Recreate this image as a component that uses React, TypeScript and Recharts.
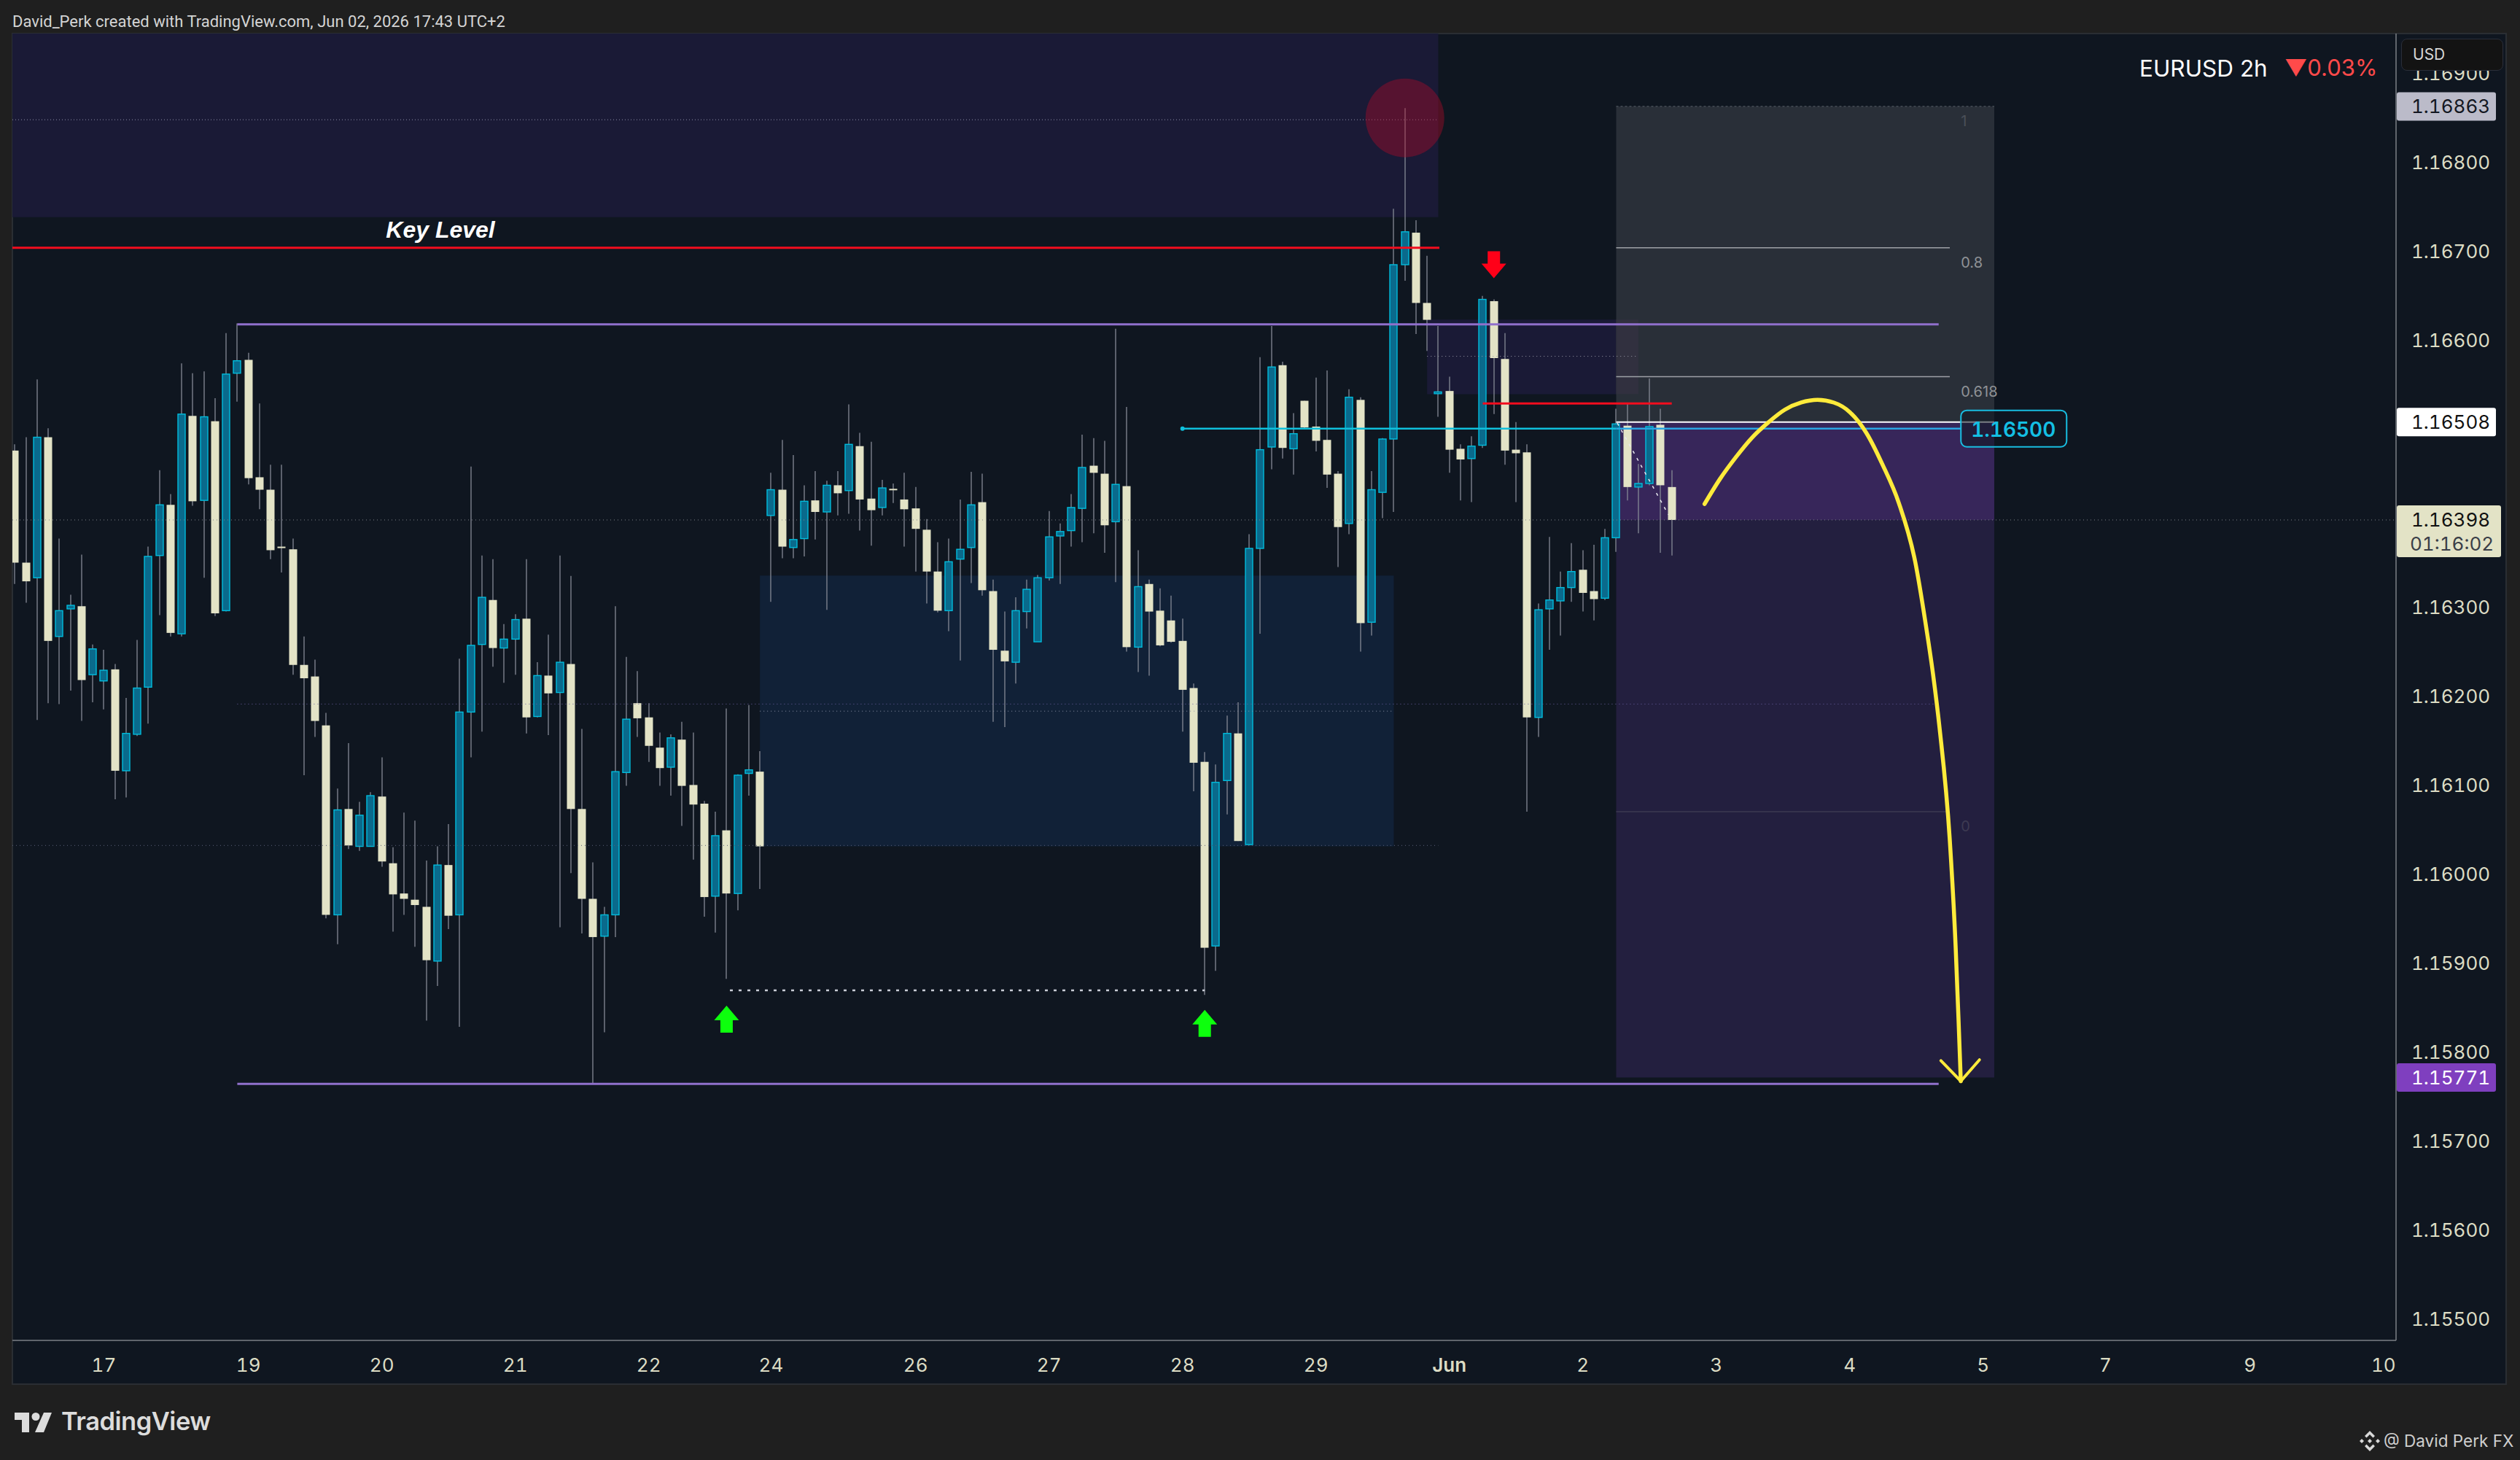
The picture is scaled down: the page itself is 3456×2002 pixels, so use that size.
import { ComposedChart, Bar, Line, XAxis, YAxis, ReferenceArea, ReferenceLine, ReferenceDot } from 'recharts';

const opens = [
  1.16476,1.16350,1.16333,1.16491,1.16267,1.16298,1.16301,1.16224,1.16217,1.16230,
  1.16116,1.16157,1.16210,1.16358,1.16415,1.16270,1.16515,1.16420,1.16509,1.16296,
  1.16563,1.16578,1.16446,1.16432,1.16368,1.16365,1.16235,1.16222,1.16167,1.15954,
  1.16073,1.16031,1.16031,1.16087,1.16012,1.15978,1.15971,1.15963,1.15902,1.16010,
  1.15954,1.16182,1.16258,1.16308,1.16254,1.16264,1.16287,1.16177,1.16223,1.16204,
  1.16236,1.16073,1.15972,1.15930,1.15954,1.16114,1.16192,1.16176,1.16142,1.16120,
  1.16151,1.16100,1.16079,1.15975,1.16049,1.15978,1.16113,1.16115,1.16403,1.16432,
  1.16367,1.16377,1.16420,1.16407,1.16437,1.16431,1.16481,1.16422,1.16412,1.16433,
  1.16421,1.16411,1.16387,1.16340,1.16296,1.16354,1.16367,1.16418,1.16318,1.16251,
  1.16238,1.16295,1.16261,1.16333,1.16380,1.16386,1.16411,1.16459,1.16450,1.16396,
  1.16436,1.16255,1.16326,1.16296,1.16285,1.16262,1.16209,1.16126,1.15919,1.16105,
  1.16158,1.16033,1.16366,1.16480,1.16572,1.16478,1.16532,1.16503,1.16488,1.16450,
  1.16394,1.16533,1.16283,1.16429,1.16489,1.16685,1.16721,1.16642,1.16540,1.16543,
  1.16478,1.16467,1.16482,1.16644,1.16579,1.16477,1.16474,1.16176,1.16298,1.16307,
  1.16322,1.16342,1.16318,1.16310,1.16378,1.16504,1.16435,1.16439,1.16505,1.16435,
];

const closes = [
  1.16350,1.16329,1.16491,1.16262,1.16296,1.16302,1.16218,1.16253,1.16229,1.16116,
  1.16158,1.16209,1.16357,1.16415,1.16271,1.16517,1.16419,1.16514,1.16293,1.16562,
  1.16577,1.16445,1.16432,1.16364,1.16367,1.16235,1.16220,1.16172,1.15954,1.16072,
  1.16032,1.16066,1.16088,1.16014,1.15977,1.15972,1.15965,1.15903,1.16010,1.15953,
  1.16182,1.16257,1.16311,1.16254,1.16264,1.16286,1.16176,1.16223,1.16203,1.16238,
  1.16073,1.15972,1.15929,1.15954,1.16115,1.16174,1.16175,1.16144,1.16119,1.16153,
  1.16099,1.16078,1.15974,1.16043,1.15978,1.16111,1.16117,1.16031,1.16432,1.16368,
  1.16376,1.16419,1.16407,1.16437,1.16428,1.16483,1.16421,1.16409,1.16434,1.16432,
  1.16410,1.16388,1.16340,1.16296,1.16351,1.16365,1.16415,1.16319,1.16252,1.16239,
  1.16296,1.16320,1.16333,1.16379,1.16385,1.16412,1.16457,1.16451,1.16392,1.16438,
  1.16255,1.16323,1.16295,1.16257,1.16261,1.16207,1.16125,1.15917,1.16103,1.16158,
  1.16037,1.16366,1.16477,1.16570,1.16479,1.16495,1.16502,1.16487,1.16449,1.16390,
  1.16536,1.16282,1.16432,1.16489,1.16685,1.16722,1.16642,1.16623,1.16542,1.16477,
  1.16466,1.16481,1.16646,1.16580,1.16476,1.16473,1.16176,1.16297,1.16308,1.16322,
  1.16340,1.16316,1.16309,1.16378,1.16506,1.16435,1.16439,1.16503,1.16437,1.16398,
];

const highs = [
  1.16483,1.16491,1.16556,1.16501,1.16377,1.16314,1.16359,1.16258,1.16252,1.16236,
  1.16198,1.16263,1.16368,1.16454,1.16427,1.16574,1.16563,1.16565,1.16535,1.16608,
  1.16619,1.16586,1.16529,1.16460,1.16460,1.16377,1.16267,1.16241,1.16181,1.16096,
  1.16147,1.16081,1.16092,1.16131,1.16030,1.16069,1.16060,1.16015,1.16031,1.16056,
  1.16242,1.16458,1.16358,1.16354,1.16281,1.16292,1.16354,1.16238,1.16269,1.16358,
  1.16335,1.16163,1.16013,1.15963,1.16301,1.16244,1.16228,1.16192,1.16159,1.16157,
  1.16171,1.16159,1.16082,1.16070,1.16186,1.16112,1.16190,1.16138,1.16451,1.16488,
  1.16471,1.16437,1.16453,1.16442,1.16453,1.16528,1.16496,1.16486,1.16443,1.16439,
  1.16451,1.16435,1.16399,1.16373,1.16377,1.16421,1.16452,1.16450,1.16331,1.16295,
  1.16311,1.16331,1.16336,1.16408,1.16394,1.16427,1.16494,1.16490,1.16487,1.16613,
  1.16525,1.16364,1.16331,1.16321,1.16313,1.16287,1.16214,1.16137,1.16123,1.16178,
  1.16193,1.16382,1.16581,1.16616,1.16576,1.16518,1.16532,1.16558,1.16566,1.16453,
  1.16545,1.16536,1.16453,1.16490,1.16748,1.16861,1.16735,1.16695,1.16616,1.16559,
  1.16483,1.16492,1.16650,1.16646,1.16608,1.16508,1.16483,1.16304,1.16379,1.16340,
  1.16372,1.16364,1.16370,1.16388,1.16523,1.16529,1.16461,1.16557,1.16523,1.16454,
];

const lows = [
  1.16326,1.16305,1.16173,1.16192,1.16191,1.16206,1.16172,1.16193,1.16185,1.16084,
  1.16086,1.16155,1.16169,1.16291,1.16267,1.16267,1.16414,1.16333,1.16290,1.16295,
  1.16531,1.16438,1.16410,1.16354,1.16339,1.16224,1.16111,1.16154,1.15950,1.15921,
  1.16028,1.16026,1.16031,1.16008,1.15935,1.15954,1.15918,1.15835,1.15874,1.15938,
  1.15828,1.16131,1.16160,1.16233,1.16215,1.16224,1.16158,1.16176,1.16156,1.15940,
  1.16001,1.15933,1.15764,1.15822,1.15929,1.16099,1.16154,1.16126,1.16099,1.16088,
  1.16054,1.16016,1.15952,1.15934,1.15882,1.15959,1.16088,1.15983,1.16306,1.16355,
  1.16355,1.16357,1.16376,1.16297,1.16403,1.16405,1.16386,1.16369,1.16403,1.16417,
  1.16368,1.16340,1.16304,1.16294,1.16273,1.16240,1.16327,1.16313,1.16171,1.16165,
  1.16214,1.16276,1.16261,1.16330,1.16326,1.16368,1.16373,1.16383,1.16361,1.16328,
  1.16250,1.16227,1.16223,1.16256,1.16260,1.16160,1.16093,1.15864,1.15891,1.16067,
  1.16037,1.16032,1.16270,1.16455,1.16467,1.16449,1.16501,1.16475,1.16434,1.16345,
  1.16382,1.16250,1.16268,1.16400,1.16407,1.16667,1.16607,1.16588,1.16514,1.16451,
  1.16420,1.16418,1.16479,1.16517,1.16460,1.16418,1.16070,1.16154,1.16252,1.16268,
  1.16306,1.16295,1.16285,1.16308,1.16362,1.16420,1.16383,1.16437,1.16361,1.16358,
];

// time axis: bar index -> label
const dateTicks = [8, 21, 33, 45, 57, 68, 81, 93, 105, 117, 129, 141, 153, 165, 177, 188, 201, 213];
const dateLabels = ['17', '19', '20', '21', '22', '24', '26', '27', '28', '29', 'Jun', '2', '3', '4', '5', '7', '9', '10'];
const priceTicks = [1.155, 1.156, 1.157, 1.158, 1.159, 1.16, 1.161, 1.162, 1.163, 1.164, 1.165, 1.166, 1.167, 1.168, 1.169];

// hand drawn projection
const curveX = [151.95, 153.33, 154.79, 156.25, 157.71, 159.17, 160.64, 162.11, 163.57, 165.03, 166.49, 167.96, 169.42, 170.89, 171.77, 172.5, 173.09, 173.99, 174.53, 174.79, 174.99];
const curveY = [1.16416, 1.16444, 1.16469, 1.16491, 1.16508, 1.16522, 1.1653, 1.16533, 1.1653, 1.16519, 1.16496, 1.1646, 1.16417, 1.16351, 1.16286, 1.16224, 1.16163, 1.1604, 1.15917, 1.15835, 1.15767];
const headX = [173.2, 174.99, 176.67];
const headY = [1.1579, 1.15767, 1.15791];
const diagX = [144.1, 148.7];
const diagY = [1.16507, 1.16404];

const candles = opens.map((open, k) => ({
  i: k,
  open,
  close: closes[k],
  high: highs[k],
  low: lows[k],
  range: [lows[k], highs[k]],
}));
const curve = curveX.map((i, k) => ({ i, y: curveY[k] }));
const head = headX.map((i, k) => ({ i, y: headY[k] }));
const diag = diagX.map((i, k) => ({ i, y: diagY[k] }));

const X_MIN = -0.223;
const X_MAX = 214.13;
const Y_MIN = 1.154755;
const Y_MAX = 1.169449;

const FONT = 'Inter, Roboto, sans-serif';
const CREAM = '#e3e3c6';
const TICK = '#dcdcc4';
const NUMS = { fontVariantNumeric: 'tabular-nums' };

const Candle = (props: any) => {
  const { x, y, width, height, payload } = props;
  const { open, close, high, low } = payload;
  const k = height / (high - low);
  const up = close > open;
  const top = y + (high - Math.max(open, close)) * k;
  const h = Math.max(Math.abs(open - close) * k, 2);
  const cx = Math.round(x + width / 2);
  return (
    <g>
      <line x1={cx} x2={cx} y1={y} y2={y + height} stroke="#868a96" strokeWidth={1.3} />
      {up ? (
        <rect x={cx - 5} y={top} width={10} height={h} fill="#0a6a8c" stroke="#00bcdc" strokeWidth={1.4} />
      ) : (
        <rect x={cx - 5.5} y={top} width={11} height={h} fill={CREAM} />
      )}
    </g>
  );
};

const DateTick = (props: any) => {
  const { x, y, payload } = props;
  const label = dateLabels[dateTicks.indexOf(payload.value)];
  return (
    <text x={x} y={y + 31} textAnchor="middle" dominantBaseline="central" fontFamily={FONT} fontSize={26}
      fontWeight={label === 'Jun' ? 600 : 400} fill={TICK} style={NUMS}>
      {label}
    </text>
  );
};

const PriceTick = (props: any) => {
  const { x, y, payload } = props;
  return (
    <text x={x} y={y} dominantBaseline="central" fontFamily={FONT} fontSize={26} fill={TICK} style={NUMS}>
      {payload.value.toFixed(5)}
    </text>
  );
};

const PriceTag = (props: any) => {
  const { cx, cy, text, bg, fg, sub } = props;
  if (sub) {
    return (
      <g>
        <rect x={cx + 1} y={cy - 20} width={143} height={71} rx={3} fill={bg} />
        <text x={cx + 21} y={cy} dominantBaseline="central" fontFamily={FONT} fontSize={26} fill={fg} style={NUMS}>{text}</text>
        <text x={cx + 19} y={cy + 33} dominantBaseline="central" fontFamily={FONT} fontSize={26} fill="#3a3e48" style={NUMS}>{sub}</text>
      </g>
    );
  }
  return (
    <g>
      <rect x={cx + 1} y={cy - 19.5} width={136} height={39} rx={3} fill={bg} />
      <text x={cx + 21} y={cy} dominantBaseline="central" fontFamily={FONT} fontSize={26} fill={fg} style={NUMS}>{text}</text>
    </g>
  );
};

const Arrow = (props: any) => {
  const { cx, cy, dir, color } = props;
  const s = dir === 'up' ? 1 : -1;
  const d = [
    [0, -18.5], [17, 1.5], [8.5, 1.5], [8.5, 18.5], [-8.5, 18.5], [-8.5, 1.5], [-17, 1.5],
  ].map(([a, b], n) => `${n === 0 ? 'M' : 'L'}${cx + a} ${cy + s * b}`).join(' ') + ' Z';
  return <path d={d} fill={color} />;
};

const FibLabel = (props: any) => (
  <text x={props.cx} y={props.cy + 20} dominantBaseline="central" fontFamily={FONT} fontSize={20} fill={props.color}>
    {props.text}
  </text>
);

const KeyLevel = (props: any) => (
  <text x={props.cx} y={props.cy} textAnchor="middle" dominantBaseline="central"
    fontFamily="'Liberation Sans', Arial, sans-serif" fontSize={32} fontWeight={700} fontStyle="italic" fill="#ffffff">
    Key Level
  </text>
);

const TargetBox = (props: any) => (
  <g>
    <rect x={props.cx} y={props.cy - 25} width={145} height={50} rx={8} fill="#0f1620" fillOpacity={0.55} stroke="#18bde0" strokeWidth={2} />
    <text x={props.cx + 72} y={props.cy + 1} textAnchor="middle" dominantBaseline="central" fontFamily={FONT} fontSize={28} fontWeight={600} fill="#14bfe3" style={NUMS}>
      1.16500
    </text>
  </g>
);

const text = (style: any) => ({ position: 'absolute', whiteSpace: 'nowrap', fontFamily: FONT, ...style });

export default function App() {
  return (
    <div style={{ position: 'absolute', left: 0, top: 0, width: 3456, height: 2002, background: '#1f1f1f', overflow: 'hidden' }}>
      <div style={{ position: 'absolute', left: 16, top: 45, width: 3422, height: 1854, background: '#0f1620', border: '2px solid #2a2e33', boxSizing: 'border-box' }} />

      <ComposedChart width={3456} height={2002} data={candles} margin={{ top: 46, right: 18, bottom: 103, left: 17 }} style={{ position: 'absolute', left: 0, top: 0 }}>
        <XAxis dataKey="i" type="number" domain={[X_MIN, X_MAX]} allowDataOverflow ticks={dateTicks} interval={0} height={61}
          tick={<DateTick />} tickLine={false} tickSize={0} axisLine={{ stroke: '#7d8086', strokeWidth: 1.5 }} />
        <YAxis orientation="right" type="number" domain={[Y_MIN, Y_MAX]} allowDataOverflow ticks={priceTicks} interval={0} width={152}
          tickLine={false} tickSize={0} tickMargin={21} tick={<PriceTick />} axisLine={{ stroke: '#7d8086', strokeWidth: 1.5 }} />

        {/* zones */}
        <ReferenceArea x1={X_MIN} x2={128} y1={1.167385} y2={Y_MAX} fill="#1a1a36" fillOpacity={1} />
        <ReferenceArea x1={67} x2={124} y1={1.16031} y2={1.163354} fill="#112137" fillOpacity={1} />
        <ReferenceArea x1={127} x2={146} y1={1.165395} y2={1.166232} fill="#1a1a36" fillOpacity={1} />
        <ReferenceArea x1={144} x2={178} y1={1.16508} y2={1.16863} fill="#292f38" fillOpacity={1} />
        <ReferenceArea x1={144} x2={146} y1={1.165395} y2={1.166232} fill="#31303f" fillOpacity={1} />
        <ReferenceArea x1={144} x2={178} y1={1.16398} y2={1.16508} fill="#37265a" fillOpacity={1} />
        <ReferenceArea x1={144} x2={178} y1={1.15771} y2={1.16398} fill="#231f3f" fillOpacity={1} />
        <ReferenceDot x={125} y={1.1685} r={54} fill="#b20b27" fillOpacity={0.4} stroke="none" />

        {/* thin dotted levels */}
        <ReferenceLine segment={[{ x: X_MIN, y: 1.16848 }, { x: 128, y: 1.16848 }]} stroke="#8f8fa8" strokeDasharray="1 3" />
        <ReferenceLine segment={[{ x: X_MIN, y: 1.16398 }, { x: X_MAX, y: 1.16398 }]} stroke="#7d8087" strokeDasharray="1 4" />
        <ReferenceLine segment={[{ x: 20, y: 1.16191 }, { x: 173, y: 1.16191 }]} stroke="#6b5fa0" strokeDasharray="1 4" />
        <ReferenceLine segment={[{ x: X_MIN, y: 1.16032 }, { x: 128, y: 1.16032 }]} stroke="#5a5f78" strokeDasharray="1 4" />
        <ReferenceLine segment={[{ x: 67, y: 1.16183 }, { x: 124, y: 1.16183 }]} stroke="#8b93a8" strokeDasharray="1 4" />
        <ReferenceLine segment={[{ x: 127, y: 1.16582 }, { x: 146, y: 1.16582 }]} stroke="#9a9aa8" strokeDasharray="1 4" />

        {/* fib levels */}
        <ReferenceLine segment={[{ x: 144, y: 1.16863 }, { x: 178, y: 1.16863 }]} stroke="#5a6068" strokeDasharray="3 3" />
        <ReferenceLine segment={[{ x: 144, y: 1.16704 }, { x: 174, y: 1.16704 }]} stroke="#9ea1a6" strokeWidth={1.5} />
        <ReferenceLine segment={[{ x: 144, y: 1.16559 }, { x: 174, y: 1.16559 }]} stroke="#9ea1a6" strokeWidth={1.5} />
        <ReferenceLine segment={[{ x: 144, y: 1.1607 }, { x: 174, y: 1.1607 }]} stroke="#3d3a52" strokeWidth={1.5} />
        <ReferenceLine segment={[{ x: 144, y: 1.16508 }, { x: 178, y: 1.16508 }]} stroke="#ffffff" strokeWidth={2} />

        {/* drawn levels */}
        <ReferenceLine segment={[{ x: X_MIN, y: 1.16704 }, { x: 128.1, y: 1.16704 }]} stroke="#f20d1e" strokeWidth={3} />
        <ReferenceLine segment={[{ x: 132, y: 1.16529 }, { x: 149, y: 1.16529 }]} stroke="#f20d1e" strokeWidth={3} />
        <ReferenceLine segment={[{ x: 20, y: 1.16618 }, { x: 173, y: 1.16618 }]} stroke="#9070cc" strokeWidth={3} />
        <ReferenceLine segment={[{ x: 20, y: 1.15764 }, { x: 173, y: 1.15764 }]} stroke="#9070cc" strokeWidth={3} />
        <ReferenceLine segment={[{ x: 105, y: 1.165007 }, { x: 144, y: 1.165007 }]} stroke="#0fc0dc" strokeWidth={2.4} />
        <ReferenceLine segment={[{ x: 144, y: 1.165007 }, { x: 175, y: 1.165007 }]} stroke="#2ba6e4" strokeWidth={2.4} />
        <ReferenceLine segment={[{ x: 64.3, y: 1.15869 }, { x: 107, y: 1.15869 }]} stroke="#c9cdd6" strokeWidth={2.5} strokeDasharray="4 8" />
        <ReferenceDot x={105} y={1.165007} r={3} fill="#0fc0dc" stroke="none" />

        <Bar dataKey="range" barSize={11} shape={<Candle />} isAnimationActive={false} />

        <Line data={diag} dataKey="y" type="linear" stroke="#e8e8f0" strokeWidth={1.5} strokeDasharray="4 7" dot={false} isAnimationActive={false} />
        <Line data={curve} dataKey="y" type="monotone" stroke="#ffeb3b" strokeWidth={5.5} strokeLinecap="round" dot={false} isAnimationActive={false} />
        <Line data={head} dataKey="y" type="linear" stroke="#ffeb3b" strokeWidth={4} strokeLinecap="round" dot={false} isAnimationActive={false} />

        {/* markers and labels */}
        <ReferenceDot x={133} y={1.16685} ifOverflow="visible" shape={<Arrow dir="down" color="#ff0018" />} />
        <ReferenceDot x={64} y={1.158367} ifOverflow="visible" shape={<Arrow dir="up" color="#0dff0d" />} />
        <ReferenceDot x={107} y={1.15832} ifOverflow="visible" shape={<Arrow dir="up" color="#0dff0d" />} />
        <ReferenceDot x={38.27} y={1.16724} ifOverflow="visible" shape={<KeyLevel />} />
        <ReferenceDot x={175} y={1.16863} ifOverflow="visible" shape={<FibLabel text="1" color="#4a4f58" />} />
        <ReferenceDot x={175} y={1.16704} ifOverflow="visible" shape={<FibLabel text="0.8" color="#8f9296" />} />
        <ReferenceDot x={175} y={1.16559} ifOverflow="visible" shape={<FibLabel text="0.618" color="#8f9296" />} />
        <ReferenceDot x={175} y={1.1607} ifOverflow="visible" shape={<FibLabel text="0" color="#3d3a52" />} />
        <ReferenceDot x={175} y={1.165007} ifOverflow="visible" shape={<TargetBox />} />

        {/* price scale tags */}
        <ReferenceDot x={X_MAX} y={1.16863} ifOverflow="visible" zIndex={3000} shape={<PriceTag text="1.16863" bg="#bbbbc9" fg="#131722" />} />
        <ReferenceDot x={X_MAX} y={1.16508} ifOverflow="visible" zIndex={3000} shape={<PriceTag text="1.16508" bg="#ffffff" fg="#111111" />} />
        <ReferenceDot x={X_MAX} y={1.16398} ifOverflow="visible" zIndex={3000} shape={<PriceTag text="1.16398" sub="01:16:02" bg={CREAM} fg="#111111" />} />
        <ReferenceDot x={X_MAX} y={1.15771} ifOverflow="visible" zIndex={3000} shape={<PriceTag text="1.15771" bg="#7f3fbf" fg="#ffffff" />} />
      </ComposedChart>

      <div style={text({ left: 17, top: 17, fontSize: 22, fontFamily: 'Roboto, sans-serif', color: '#d4d4d4' })}>
        David_Perk created with TradingView.com, Jun 02, 2026 17:43 UTC+2
      </div>
      <div style={text({ left: 2934, top: 74, fontSize: 31.5, color: '#ffffff' })}>EURUSD 2h</div>
      <div style={text({ left: 3133, top: 74, fontSize: 31, color: '#ff4a4a' })}>▼0.03%</div>
      <div style={text({ left: 3293, top: 53, width: 140, height: 44, lineHeight: '42px', boxSizing: 'border-box', paddingLeft: 15, fontSize: 21, background: '#131313', border: '1.5px solid #2a2e39', borderRadius: 8, color: '#d8d8d8' })}>USD</div>

      <svg style={{ position: 'absolute', left: 20, top: 1937 }} width={52} height={28} viewBox="0 0 52 28">
        <path d="M0 0H20V27H10V10H0Z" fill="#dcdcdc" />
        <circle cx={29} cy={5.5} r={5.5} fill="#dcdcdc" />
        <path d="M40 0H51L40 27H28Z" fill="#dcdcdc" />
      </svg>
      <div style={text({ left: 84, top: 1928, fontSize: 34.5, fontWeight: 600, color: '#dcdcdc', letterSpacing: -0.5 })}>TradingView</div>

      <svg style={{ position: 'absolute', left: 3236, top: 1962 }} width={28} height={28} viewBox="-14 -14 28 28">
        <g fill="#d8d8d8">
          <path d="M0 -14L7 -7L4.5 -4.5L0 -9L-4.5 -4.5L-7 -7Z" />
          <path d="M0 14L7 7L4.5 4.5L0 9L-4.5 4.5L-7 7Z" />
          <path d="M0 -3L3 0L0 3L-3 0Z" />
          <path d="M-11 -3L-8 0L-11 3L-14 0Z" />
          <path d="M11 -3L14 0L11 3L8 0Z" />
        </g>
      </svg>
      <div style={text({ left: 3269, top: 1962, fontSize: 22.5, color: '#cfcfcf' })}>@ David Perk FX</div>
    </div>
  );
}
